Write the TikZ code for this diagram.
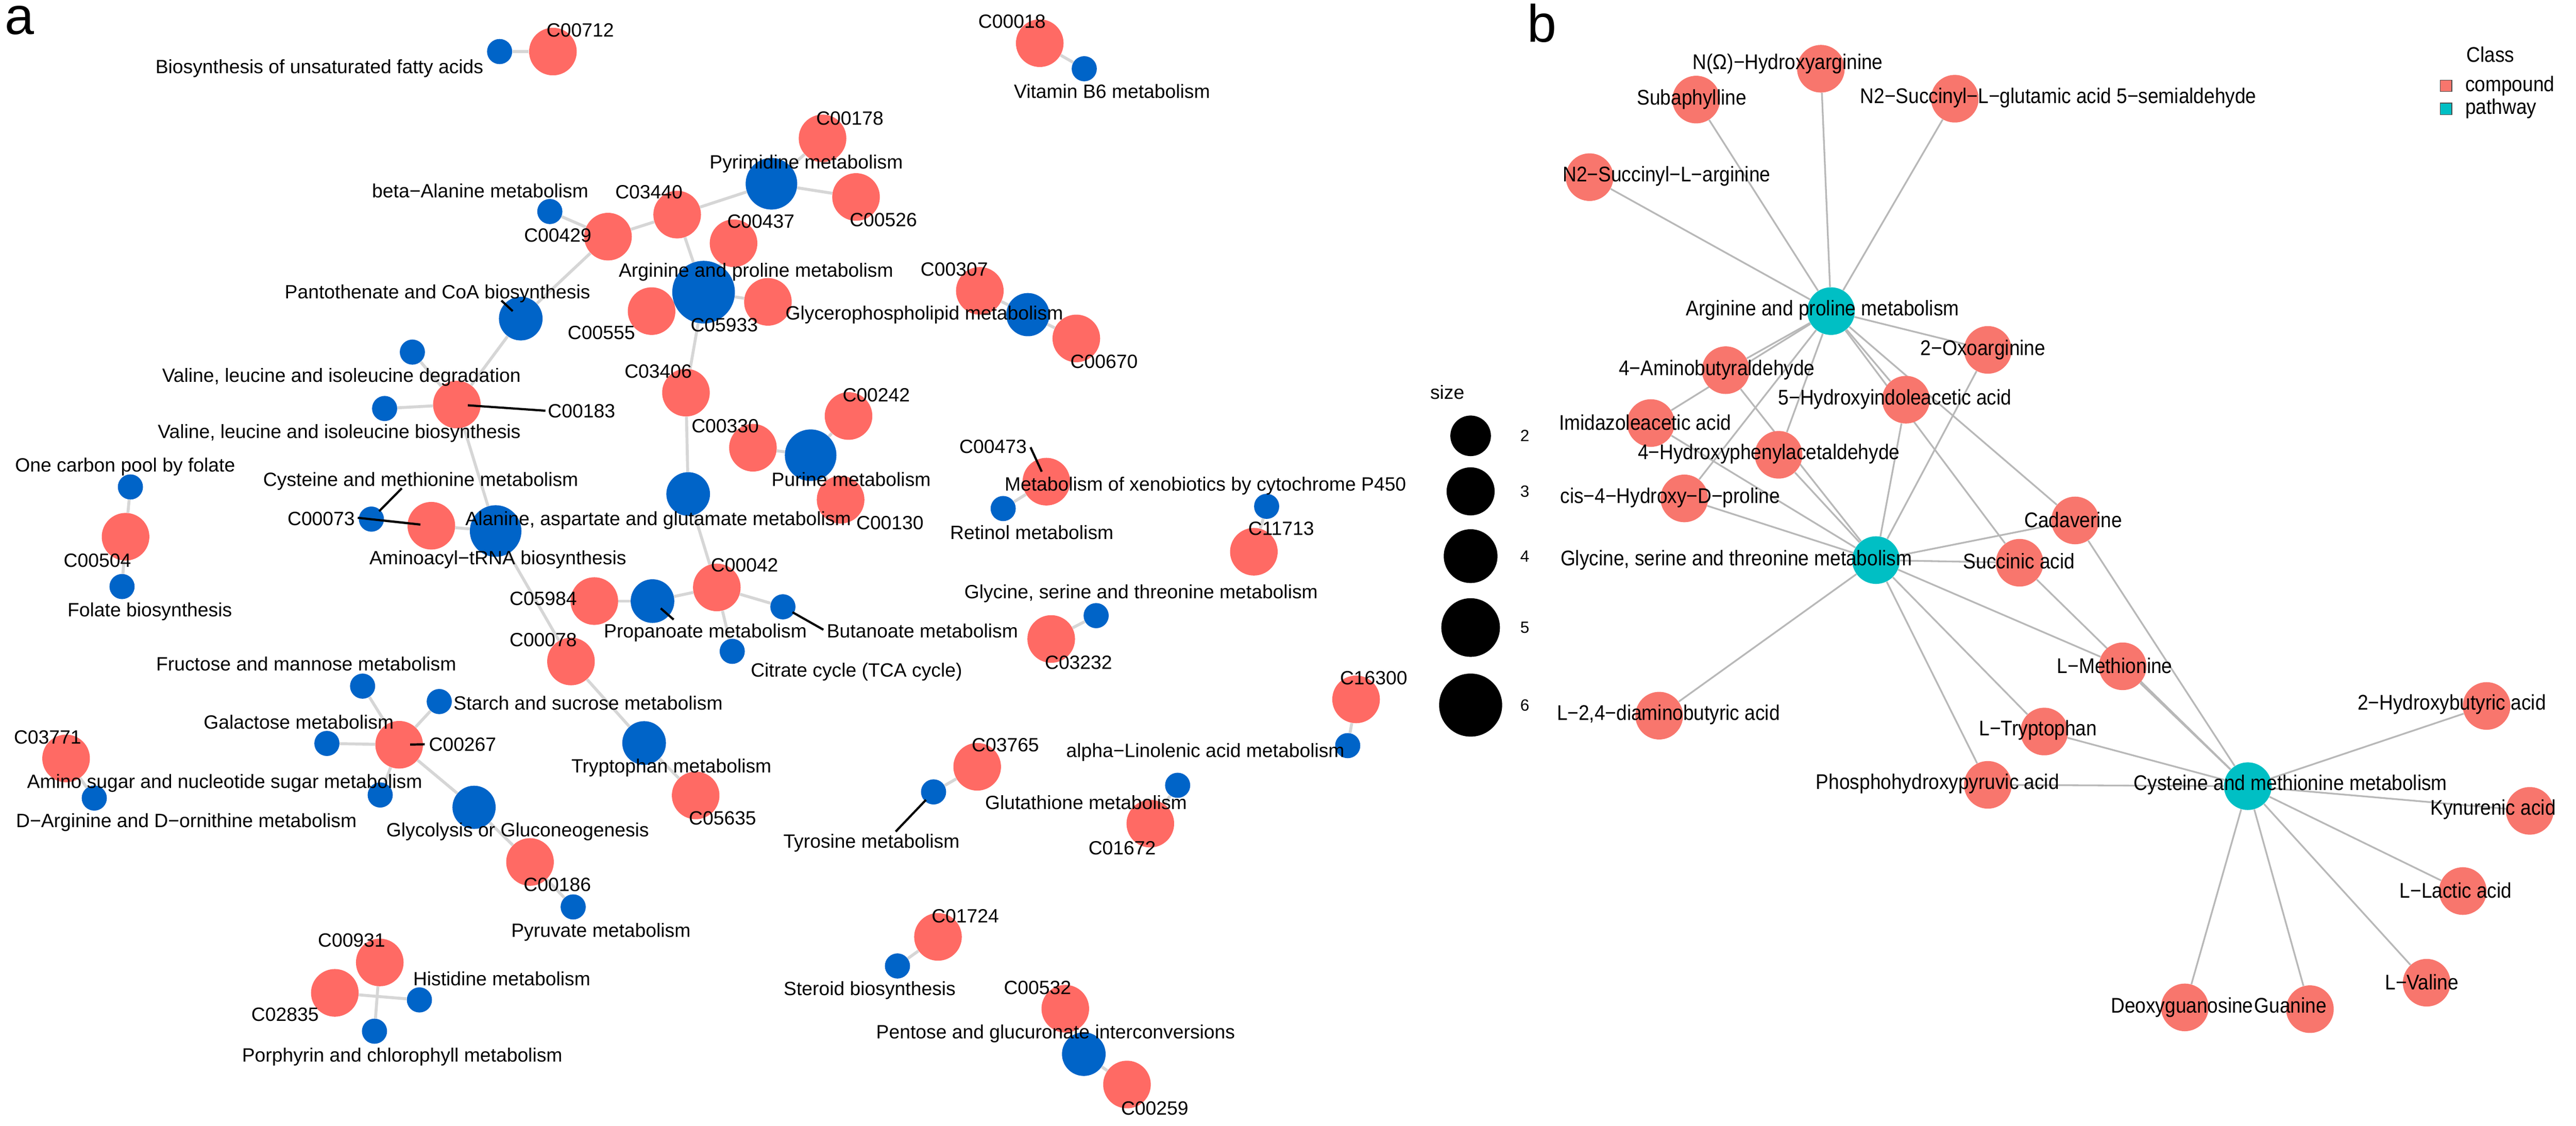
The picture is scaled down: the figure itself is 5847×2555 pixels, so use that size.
\documentclass[tikz,border=0pt]{standalone}
\usepackage{fontspec}
\setmainfont{Liberation Sans}
\newfontfamily\narrowfont[FakeStretch=0.9]{Liberation Sans}
\usetikzlibrary{backgrounds}
\definecolor{cpdred}{HTML}{FF6A64}
\definecolor{pwyblue}{HTML}{0064C8}
\definecolor{cpdsalmon}{HTML}{F8766D}
\definecolor{pwyteal}{HTML}{00BFC4}
\definecolor{edgegray}{HTML}{D6D6D6}
\definecolor{edgegrayb}{HTML}{B8B8B8}
\tikzset{
  cpd/.style={circle,fill=cpdred,inner sep=0pt,minimum size=1.08cm},
  pwy/.style={circle,fill=pwyblue,inner sep=0pt,minimum size=#1},
  pwy/.default=0.57cm,
  cpdb/.style={circle,fill=cpdsalmon,inner sep=0pt,minimum size=1.08cm},
  pwyb/.style={circle,fill=pwyteal,inner sep=0pt,minimum size=1.08cm},
  lab/.style={font=\fontsize{12.4}{14}\selectfont,inner sep=0pt,anchor=base},
  labb/.style={font=\narrowfont\fontsize{13.7}{16}\selectfont,inner sep=0pt,anchor=base},
  legnum/.style={font=\fontsize{10.5}{12}\selectfont,inner sep=0pt},
  panel/.style={font=\fontsize{34}{40}\selectfont,inner sep=0pt,anchor=base},
  edgeA/.style={draw=edgegray,line width=1.9pt},
  edgeB/.style={draw=edgegrayb,line width=1.1pt},
  leader/.style={draw=black,line width=1.4pt,shorten >=0.25cm},
  keybox/.style={draw=black!70,line width=0.4pt,minimum size=0.26cm,inner sep=0pt}
}

\begin{document}
\begin{tikzpicture}[x=0.01cm,y=-0.01cm]
\useasboundingbox (0,0) rectangle (5847,2555);
\begin{scope}[on background layer]
\fill[white] (0,0) rectangle (5847,2555);
\end{scope}

% panel a: compounds
\node[cpd] (C00712) at (1255,117) {};
\node[cpd] (C00018) at (2360,98) {};
\node[cpd] (C00178) at (1867,314) {};
\node[cpd] (C00526) at (1943,447) {};
\node[cpd] (C03440) at (1537,487) {};
\node[cpd] (C00429) at (1380,537) {};
\node[cpd] (C00437) at (1665,552) {};
\node[cpd] (C00555) at (1479,706) {};
\node[cpd] (C05933) at (1743,685) {};
\node[cpd] (C00307) at (2224,660) {};
\node[cpd] (C00670) at (2443,768) {};
\node[cpd] (C03406) at (1557,891) {};
\node[cpd] (C00183) at (1037,918) {};
\node[cpd] (C00330) at (1709,1016) {};
\node[cpd] (C00242) at (1926,944) {};
\node[cpd] (C00130) at (1908,1134) {};
\node[cpd] (C00504) at (285,1218) {};
\node[cpd] (C00073) at (979,1193) {};
\node[cpd] (C00042) at (1627,1333) {};
\node[cpd] (C05984) at (1349,1364) {};
\node[cpd] (C00078) at (1296,1501) {};
\node[cpd] (C00267) at (906,1690) {};
\node[cpd] (C03771) at (150,1721) {};
\node[cpd] (C05635) at (1579,1805) {};
\node[cpd] (C00186) at (1203,1956) {};
\node[cpd] (C00931) at (862,2184) {};
\node[cpd] (C02835) at (760,2253) {};
\node[cpd] (C03765) at (2218,1740) {};
\node[cpd] (C01724) at (2129,2126) {};
\node[cpd] (C00532) at (2418,2289) {};
\node[cpd] (C00259) at (2558,2461) {};
\node[cpd] (C01672) at (2611,1869) {};
\node[cpd] (C00473) at (2375,1093) {};
\node[cpd] (C11713) at (2846,1252) {};
\node[cpd] (C03232) at (2386,1450) {};
\node[cpd] (C16300) at (3078,1587) {};

% panel a: pathways
\node[pwy] (bioUFA) at (1134,117) {};
\node[pwy] (vitB6) at (2461,156) {};
\node[pwy] (betaAla) at (1248,480) {};
\node[pwy=0.99cm] (panto) at (1182,723) {};
\node[pwy] (valdeg) at (936,799) {};
\node[pwy] (valbio) at (873,927) {};
\node[pwy] (onecarb) at (296,1105) {};
\node[pwy] (folate) at (277,1331) {};
\node[pwy] (cysmet) at (843,1178) {};
\node[pwy=1.17cm] (aminoacyl) at (1125,1205) {};
\node[pwy=1.42cm] (argpro) at (1597,663) {};
\node[pwy=1.17cm] (pyrimidine) at (1751,417) {};
\node[pwy=0.98cm] (glycero) at (2333,714) {};
\node[pwy=0.99cm] (alanine) at (1562,1121) {};
\node[pwy=1.17cm] (purine) at (1840,1033) {};
\node[pwy=0.99cm] (propanoate) at (1481,1364) {};
\node[pwy] (butanoate) at (1777,1377) {};
\node[pwy] (citrate) at (1662,1478) {};
\node[pwy=0.99cm] (tryptophan) at (1462,1686) {};
\node[pwy] (fructose) at (823,1557) {};
\node[pwy] (starch) at (997,1592) {};
\node[pwy] (galactose) at (742,1687) {};
\node[pwy] (aminosugar) at (863,1804) {};
\node[pwy] (darg) at (214,1811) {};
\node[pwy=0.98cm] (glycolysis) at (1076,1832) {};
\node[pwy] (pyruvate) at (1301,2058) {};
\node[pwy] (histidine) at (952,2269) {};
\node[pwy] (porphyrin) at (850,2340) {};
\node[pwy] (tyrosine) at (2119,1797) {};
\node[pwy] (steroid) at (2037,2192) {};
\node[pwy=0.99cm] (pentose) at (2460,2392) {};
\node[pwy] (glutathione) at (2673,1782) {};
\node[pwy] (linolenic) at (3059,1692) {};
\node[pwy] (retinol) at (2277,1154) {};
\node[pwy] (xeno) at (2875,1149) {};
\node[pwy] (glycine) at (2488,1397) {};

\begin{scope}[on background layer]
\draw[edgeA] (bioUFA) -- (C00712);
\draw[edgeA] (C00018) -- (vitB6);
\draw[edgeA] (betaAla) -- (C00429);
\draw[edgeA] (C00429) -- (C03440);
\draw[edgeA] (C03440) -- (pyrimidine);
\draw[edgeA] (pyrimidine) -- (C00178);
\draw[edgeA] (pyrimidine) -- (C00526);
\draw[edgeA] (C03440) -- (argpro);
\draw[edgeA] (C00437) -- (argpro);
\draw[edgeA] (C00555) -- (argpro);
\draw[edgeA] (argpro) -- (C05933);
\draw[edgeA] (argpro) -- (C03406);
\draw[edgeA] (C00429) -- (panto);
\draw[edgeA] (panto) -- (C00183);
\draw[edgeA] (valdeg) -- (C00183);
\draw[edgeA] (valbio) -- (C00183);
\draw[edgeA] (C00183) -- (aminoacyl);
\draw[edgeA] (C00307) -- (glycero);
\draw[edgeA] (glycero) -- (C00670);
\draw[edgeA] (C03406) -- (alanine);
\draw[edgeA] (alanine) -- (C00042);
\draw[edgeA] (C00330) -- (purine);
\draw[edgeA] (purine) -- (C00242);
\draw[edgeA] (purine) -- (C00130);
\draw[edgeA] (onecarb) -- (C00504);
\draw[edgeA] (C00504) -- (folate);
\draw[edgeA] (cysmet) -- (C00073);
\draw[edgeA] (C00073) -- (aminoacyl);
\draw[edgeA] (aminoacyl) -- (C00078);
\draw[edgeA] (C00042) -- (propanoate);
\draw[edgeA] (propanoate) -- (C05984);
\draw[edgeA] (C00042) -- (butanoate);
\draw[edgeA] (C00042) -- (citrate);
\draw[edgeA] (C00078) -- (tryptophan);
\draw[edgeA] (tryptophan) -- (C05635);
\draw[edgeA] (fructose) -- (C00267);
\draw[edgeA] (starch) -- (C00267);
\draw[edgeA] (galactose) -- (C00267);
\draw[edgeA] (C00267) -- (aminosugar);
\draw[edgeA] (C00267) -- (glycolysis);
\draw[edgeA] (C03771) -- (darg);
\draw[edgeA] (glycolysis) -- (C00186);
\draw[edgeA] (C00186) -- (pyruvate);
\draw[edgeA] (C00931) -- (porphyrin);
\draw[edgeA] (C02835) -- (histidine);
\draw[edgeA] (C00473) -- (retinol);
\draw[edgeA] (xeno) -- (C11713);
\draw[edgeA] (C03232) -- (glycine);
\draw[edgeA] (C16300) -- (linolenic);
\draw[edgeA] (tyrosine) -- (C03765);
\draw[edgeA] (C01724) -- (steroid);
\draw[edgeA] (C00532) -- (pentose);
\draw[edgeA] (pentose) -- (C00259);
\draw[edgeA] (glutathione) -- (C01672);
\end{scope}

% panel a: leader lines
\coordinate (pantoT) at (1138,682);
\coordinate (C00183T) at (1238,932);
\coordinate (cysmetT) at (912,1108);
\coordinate (C00073T) at (812,1175);
\coordinate (C00267T) at (964,1689);
\coordinate (propanoateT) at (1529,1406);
\coordinate (butanoateT) at (1869,1429);
\coordinate (tyrosineT) at (2033,1887);
\coordinate (C00473T) at (2339,1015);
\draw[leader] (pantoT) -- (panto.center);
\draw[leader] (C00183T) -- (C00183.center);
\draw[leader] (cysmetT) -- (cysmet.center);
\draw[leader] (C00073T) -- (C00073.center);
\draw[leader] (C00267T) -- (C00267.center);
\draw[leader] (propanoateT) -- (propanoate.center);
\draw[leader] (butanoateT) -- (butanoate.center);
\draw[leader] (tyrosineT) -- (tyrosine.center);
\draw[leader] (C00473T) -- (C00473.center);

% panel a: labels
\node[panel] (pa) at (44,78) {a};
\node[lab] (tBioUFA) at (725,167) {Biosynthesis of unsaturated fatty acids};
\node[lab] (tBetaAla) at (1090,448) {beta−Alanine metabolism};
\node[lab] (tPanto) at (993,678) {Pantothenate and CoA biosynthesis};
\node[lab] (tValdeg) at (775,867) {Valine, leucine and isoleucine degradation};
\node[lab] (tC00183) at (1320,948) {C00183};
\node[lab] (tValbio) at (770,994) {Valine, leucine and isoleucine biosynthesis};
\node[lab] (tOnecarb) at (284,1071) {One carbon pool by folate};
\node[lab] (tCysmet) at (955,1103) {Cysteine and methionine metabolism};
\node[lab] (tC00073) at (729,1192) {C00073};
\node[lab] (tAlanine) at (1494,1192) {Alanine, aspartate and glutamate metabolism};
\node[lab] (tC00504) at (221,1287) {C00504};
\node[lab] (tAminoacyl) at (1130,1281) {Aminoacyl−tRNA biosynthesis};
\node[lab] (tFolate) at (340,1399) {Folate biosynthesis};
\node[lab] (tFructose) at (695,1522) {Fructose and mannose metabolism};
\node[lab] (tStarch) at (1335,1611) {Starch and sucrose metabolism};
\node[lab] (tGalactose) at (678,1654) {Galactose metabolism};
\node[lab] (tC00267) at (1050,1704) {C00267};
\node[lab] (tC03771) at (108,1688) {C03771};
\node[lab] (tAminosugar) at (510,1789) {Amino sugar and nucleotide sugar metabolism};
\node[lab] (tDarg) at (423,1878) {D−Arginine and D−ornithine metabolism};
\node[lab] (tGlycolysis) at (1175,1898) {Glycolysis or Gluconeogenesis};
\node[lab] (tC00931) at (798,2149) {C00931};
\node[lab] (tHistidine) at (1139,2236) {Histidine metabolism};
\node[lab] (tC02835) at (647,2317) {C02835};
\node[lab] (tPorphyrin) at (913,2409) {Porphyrin and chlorophyll metabolism};
\node[lab] (tC00712) at (1317,84) {C00712};
\node[lab] (tC00178) at (1929,284) {C00178};
\node[lab] (tPyrimidine) at (1830,383) {Pyrimidine metabolism};
\node[lab] (tC03440) at (1473,451) {C03440};
\node[lab] (tC00437) at (1727,517) {C00437};
\node[lab] (tC00526) at (2005,514) {C00526};
\node[lab] (tC00429) at (1266,549) {C00429};
\node[lab] (tArgpro) at (1716,629) {Arginine and proline metabolism};
\node[lab] (tC00307) at (2166,626) {C00307};
\node[lab] (tC00555) at (1365,770) {C00555};
\node[lab] (tC05933) at (1644,752) {C05933};
\node[lab] (tGlycero) at (2098,726) {Glycerophospholipid metabolism};
\node[lab] (tC00670) at (2506,836) {C00670};
\node[lab] (tC03406) at (1494,858) {C03406};
\node[lab] (tC00242) at (1989,911) {C00242};
\node[lab] (tC00330) at (1646,982) {C00330};
\node[lab] (tPurine) at (1932,1103) {Purine metabolism};
\node[lab] (tC00130) at (2020,1201) {C00130};
\node[lab] (tC00042) at (1690,1298) {C00042};
\node[lab] (tC05984) at (1233,1373) {C05984};
\node[lab] (tPropanoate) at (1601,1447) {Propanoate metabolism};
\node[lab,anchor=base west] (tButanoate) at (1876,1447) {Butanoate metabolism};
\node[lab] (tCitrate) at (1944,1536) {Citrate cycle (TCA cycle)};
\node[lab] (tC00078) at (1233,1467) {C00078};
\node[lab] (tTryptophan) at (1524,1754) {Tryptophan metabolism};
\node[lab] (tC05635) at (1640,1872) {C05635};
\node[lab] (tC00186) at (1265,2022) {C00186};
\node[lab] (tPyruvate) at (1364,2126) {Pyruvate metabolism};
\node[lab] (tTyrosine) at (1978,1924) {Tyrosine metabolism};
\node[lab] (tC03765) at (2282,1705) {C03765};
\node[lab] (tC01724) at (2191,2094) {C01724};
\node[lab] (tSteroid) at (1974,2259) {Steroid biosynthesis};
\node[lab] (tPentose) at (2396,2357) {Pentose and glucuronate interconversions};
\node[lab] (tC00532) at (2355,2256) {C00532};
\node[lab] (tC00259) at (2621,2530) {C00259};
\node[lab] (tGlutathione) at (2465,1837) {Glutathione metabolism};
\node[lab] (tC01672) at (2547,1939) {C01672};
\node[lab] (tLinolenic) at (2736,1719) {alpha−Linolenic acid metabolism};
\node[lab] (tC00473) at (2254,1028) {C00473};
\node[lab] (tXeno) at (2736,1114) {Metabolism of xenobiotics by cytochrome P450};
\node[lab] (tRetinol) at (2342,1224) {Retinol metabolism};
\node[lab] (tC11713) at (2908,1215) {C11713};
\node[lab] (tGlycine) at (2590,1358) {Glycine, serine and threonine metabolism};
\node[lab] (tC03232) at (2448,1519) {C03232};
\node[lab] (tC16300) at (3118,1554) {C16300};
\node[lab] (tC00018) at (2297,64) {C00018};
\node[lab] (tVitB6) at (2524,223) {Vitamin B6 metabolism};

% size legend
\node[lab] (tsize) at (3285,906) {size};
\node[circle,fill=black,inner sep=0pt,minimum size=0.92cm] (sz2) at (3338,989) {};
\node[circle,fill=black,inner sep=0pt,minimum size=1.09cm] (sz3) at (3338,1115) {};
\node[circle,fill=black,inner sep=0pt,minimum size=1.22cm] (sz4) at (3338,1262) {};
\node[circle,fill=black,inner sep=0pt,minimum size=1.33cm] (sz5) at (3338,1424) {};
\node[circle,fill=black,inner sep=0pt,minimum size=1.43cm] (sz6) at (3338,1600) {};
\node[legnum] (tsz2) at (3461,989) {2};
\node[legnum] (tsz3) at (3461,1115) {3};
\node[legnum] (tsz4) at (3461,1262) {4};
\node[legnum] (tsz5) at (3461,1424) {5};
\node[legnum] (tsz6) at (3461,1600) {6};

% panel b: nodes
\node[cpdb] (nhyd) at (4133,156) {};
\node[cpdb] (subaph) at (3850,226) {};
\node[cpdb] (n2glu) at (4437,224) {};
\node[cpdb] (n2arg) at (3608,402) {};
\node[pwyb] (argproB) at (4156,706) {};
\node[cpdb] (oxoarg) at (4512,794) {};
\node[cpdb] (aminobut) at (3917,840) {};
\node[cpdb] (hiaa) at (4326,907) {};
\node[cpdb] (imid) at (3747,960) {};
\node[cpdb] (hpa) at (4037,1032) {};
\node[cpdb] (cishyp) at (3823,1131) {};
\node[pwyb] (glyB) at (4258,1271) {};
\node[cpdb] (cadav) at (4710,1181) {};
\node[cpdb] (succ) at (4584,1277) {};
\node[cpdb] (lmet) at (4818,1512) {};
\node[cpdb] (hbut) at (5644,1602) {};
\node[cpdb] (dab) at (3766,1624) {};
\node[cpdb] (ltrp) at (4640,1660) {};
\node[cpdb] (php) at (4512,1781) {};
\node[pwyb] (cysB) at (5102,1784) {};
\node[cpdb] (kyn) at (5742,1840) {};
\node[cpdb] (llac) at (5590,2022) {};
\node[cpdb] (lval) at (5508,2230) {};
\node[cpdb] (deoxy) at (4959,2286) {};
\node[cpdb] (guan) at (5243,2290) {};

\begin{scope}[on background layer]
\draw[edgeB] (argproB) -- (n2arg);
\draw[edgeB] (argproB) -- (subaph);
\draw[edgeB] (argproB) -- (nhyd);
\draw[edgeB] (argproB) -- (n2glu);
\draw[edgeB] (argproB) -- (oxoarg);
\draw[edgeB] (argproB) -- (aminobut);
\draw[edgeB] (argproB) -- (imid);
\draw[edgeB] (argproB) -- (hiaa);
\draw[edgeB] (argproB) -- (hpa);
\draw[edgeB] (argproB) -- (cishyp);
\draw[edgeB] (argproB) -- (cadav);
\draw[edgeB] (argproB) -- (succ);
\draw[edgeB] (glyB) -- (aminobut);
\draw[edgeB] (glyB) -- (imid);
\draw[edgeB] (glyB) -- (cishyp);
\draw[edgeB] (glyB) -- (hpa);
\draw[edgeB] (glyB) -- (hiaa);
\draw[edgeB] (glyB) -- (oxoarg);
\draw[edgeB] (glyB) -- (cadav);
\draw[edgeB] (glyB) -- (succ);
\draw[edgeB] (glyB) -- (dab);
\draw[edgeB] (glyB) -- (php);
\draw[edgeB] (glyB) -- (ltrp);
\draw[edgeB] (glyB) -- (lmet);
\draw[edgeB] (cysB) -- (cadav);
\draw[edgeB] (cysB) -- (succ);
\draw[edgeB] (cysB) -- (lmet);
\draw[edgeB] (cysB) -- (ltrp);
\draw[edgeB] (cysB) -- (php);
\draw[edgeB] (cysB) -- (hbut);
\draw[edgeB] (cysB) -- (kyn);
\draw[edgeB] (cysB) -- (llac);
\draw[edgeB] (cysB) -- (lval);
\draw[edgeB] (cysB) -- (guan);
\draw[edgeB] (cysB) -- (deoxy);
\end{scope}

% panel b: labels
\node[panel] (pb) at (3500,95) {b};
\node[labb] (tnhyd) at (4058,157) {N(Ω)−Hydroxyarginine};
\node[labb] (tsubaph) at (3840,238) {Subaphylline};
\node[labb] (tn2glu) at (4672,234) {N2−Succinyl−L−glutamic acid 5−semialdehyde};
\node[labb] (tn2arg) at (3783,412) {N2−Succinyl−L−arginine};
\node[labb] (targproB) at (4137,716) {Arginine and proline metabolism};
\node[labb] (toxoarg) at (4501,806) {2−Oxoarginine};
\node[labb] (taminobut) at (3897,852) {4−Aminobutyraldehyde};
\node[labb] (thiaa) at (4301,918) {5−Hydroxyindoleacetic acid};
\node[labb] (timid) at (3734,976) {Imidazoleacetic acid};
\node[labb] (thpa) at (4015,1042) {4−Hydroxyphenylacetaldehyde};
\node[labb] (tcishyp) at (3791,1142) {cis−4−Hydroxy−D−proline};
\node[labb] (tglyB) at (3941,1283) {Glycine, serine and threonine metabolism};
\node[labb] (tcadav) at (4706,1197) {Cadaverine};
\node[labb] (tsucc) at (4583,1291) {Succinic acid};
\node[labb] (tlmet) at (4800,1528) {L−Methionine};
\node[labb] (thbut) at (5565,1611) {2−Hydroxybutyric acid};
\node[labb] (tdab) at (3787,1634) {L−2,4−diaminobutyric acid};
\node[labb] (tltrp) at (4626,1669) {L−Tryptophan};
\node[labb] (tphp) at (4398,1791) {Phosphohydroxypyruvic acid};
\node[labb] (tcysB) at (5199,1793) {Cysteine and methionine metabolism};
\node[labb] (tkyn) at (5659,1849) {Kynurenic acid};
\node[labb] (tllac) at (5574,2038) {L−Lactic acid};
\node[labb] (tlval) at (5497,2246) {L−Valine};
\node[labb] (tdeoxy) at (4953,2298) {Deoxyguanosine};
\node[labb] (tguan) at (5199,2298) {Guanine};

% class legend
\node[labb,anchor=base west] (tclass) at (5598,141) {Class};
\node[keybox,fill=cpdsalmon] (kcpd) at (5552,195) {};
\node[keybox,fill=pwyteal] (kpwy) at (5552,247) {};
\node[labb,anchor=base west] (tcpd) at (5595,207) {compound};
\node[labb,anchor=base west] (tpwy) at (5595,259) {pathway};
\end{tikzpicture}
\end{document}
